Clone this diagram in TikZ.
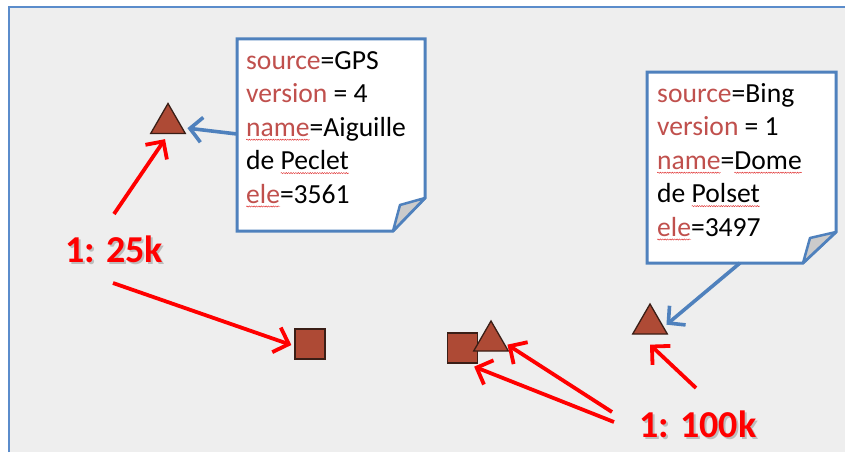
\documentclass[tikz,border=0pt]{standalone}
\usepackage{fontspec}
\setmainfont{Carlito}
\usetikzlibrary{arrows.meta,decorations.pathmorphing,shapes.geometric,calc}
\definecolor{bg}{HTML}{EEEEEE}
\definecolor{frameblue}{HTML}{5B8CCB}
\definecolor{noteblue}{HTML}{4F81BD}
\definecolor{keyred}{HTML}{C0504D}
\definecolor{shapefill}{HTML}{AE4A35}
\definecolor{shapeline}{HTML}{3A1E16}
\definecolor{foldgrey}{HTML}{CBCBCB}
\definecolor{arrowred}{HTML}{FF0000}
\definecolor{spellred}{HTML}{E03030}
\definecolor{shadowgrey}{HTML}{BDBDBD}
\newsavebox\spbox
\newlength\splen
\newcommand\spell[1]{\sbox\spbox{#1}\setlength\splen{\wd\spbox}\leavevmode\rlap{\usebox\spbox}\tikz[overlay,baseline=0pt]\draw[spellred,line width=0.45pt,decorate,decoration={snake,amplitude=0.6pt,segment length=2.4pt}] (0pt,-3.5pt) -- (\splen,-3.5pt);\hspace{\splen}}
\newcommand\key[1]{\textcolor{keyred}{#1}}
\newcommand\shadowed[1]{\rlap{\kern2pt\raisebox{-2pt}{\textcolor{shadowgrey}{#1}}}#1}
\tikzset{
  notebox/.style={draw=noteblue,line width=3pt,fill=white,line join=miter},
  foldpart/.style={draw=noteblue,line width=2.5pt,fill=foldgrey,line join=round},
  notetext/.style={anchor=base west,align=left,inner sep=0pt,font=\fontsize{27.6}{33.4}\selectfont},
  tri/.style={regular polygon,regular polygon sides=3,minimum size=40pt,inner sep=0pt,fill=shapefill,draw=shapeline,line width=1.3pt},
  sq/.style={rectangle,minimum size=30pt,inner sep=0pt,fill=shapefill,draw=shapeline,line width=1.3pt},
  redarrow/.style={draw=arrowred,line width=3.8pt,-{Straight Barb[length=13pt,width=26pt]}},
  bluearrow/.style={draw=noteblue,line width=3.6pt,-{Straight Barb[length=12pt,width=25pt]}},
  scale label/.style={anchor=base west,inner sep=0pt,text=arrowred,font=\fontsize{38}{40}\selectfont\bfseries},
}
\begin{document}
\begin{tikzpicture}[x=1pt,y=-1pt]
\useasboundingbox (0,0) rectangle (845,452);
\fill[white] (0,0) rectangle (845,452);
\fill[bg] (9,7) rectangle (845,452);
\draw[frameblue,line width=2.5pt] (9,452) -- (9,7) -- (845,7);

% note 1
\draw[notebox] (237,39) -- (425,39) -- (425,198) -- (393,231) -- (237,231) -- cycle;
\draw[foldpart] (393,231) -- (400,205) -- (425,198) -- cycle;
\node[notetext] (gpstext) at (246,203) {\key{source}=GPS\\ \key{version} = 4\\ \key{\spell{name}}=Aiguille\\ de \spell{Peclet}\\ \key{\spell{ele}}=3561};

% note 2
\draw[notebox] (647,72) -- (836,72) -- (836,232) -- (803,263) -- (647,263) -- cycle;
\draw[foldpart] (803,263) -- (810,238) -- (836,232) -- cycle;
\node[notetext] (bingtext) at (657,236) {\key{source}=Bing\\ \key{version} = 1\\ \key{\spell{name}}=\spell{Dome}\\ de \spell{Polset}\\ \key{\spell{ele}}=3497};

% shapes
\node[tri] (t1) at (168,123.5) {};
\node[sq] (s1) at (310,344) {};
\node[sq] (s2) at (462.5,348) {};
\node[tri] (t2) at (491,341) {};
\node[tri] (t3) at (650,324) {};

% scale labels
\node[scale label] (l1) at (65,262) {\shadowed{1: 25k}};
\node[scale label] (l2) at (639,437) {\shadowed{1: 100k}};

% connector free ends
\coordinate (a1) at (114,214);
\coordinate (a2) at (113,283);
\coordinate (a3) at (612,412);
\coordinate (a4) at (614,422);
\coordinate (a5) at (696,388);
\coordinate (gpsptr) at (237,134);
\coordinate (bingptr) at (740,263);

% red arrows
\draw[redarrow] (a1) -- ($(t1.south)+(-3,5)$);
\draw[redarrow] (a2) -- ($(s1.west)+(-3,1)$);
\draw[redarrow] (a3) -- ($(t2.corner 3)+(-2,-7)$);
\draw[redarrow] (a4) -- ($(s2.south east)+(-4,3)$);
\draw[redarrow] (a5) -- ($(t3.south)+(0,10)$);

% blue pointers
\draw[bluearrow] (gpsptr) -- ($(t1.corner 3)+(1,-6)$);
\draw[bluearrow] (bingptr) -- ($(t3.corner 3)+(-2,-10)$);
\end{tikzpicture}
\end{document}
